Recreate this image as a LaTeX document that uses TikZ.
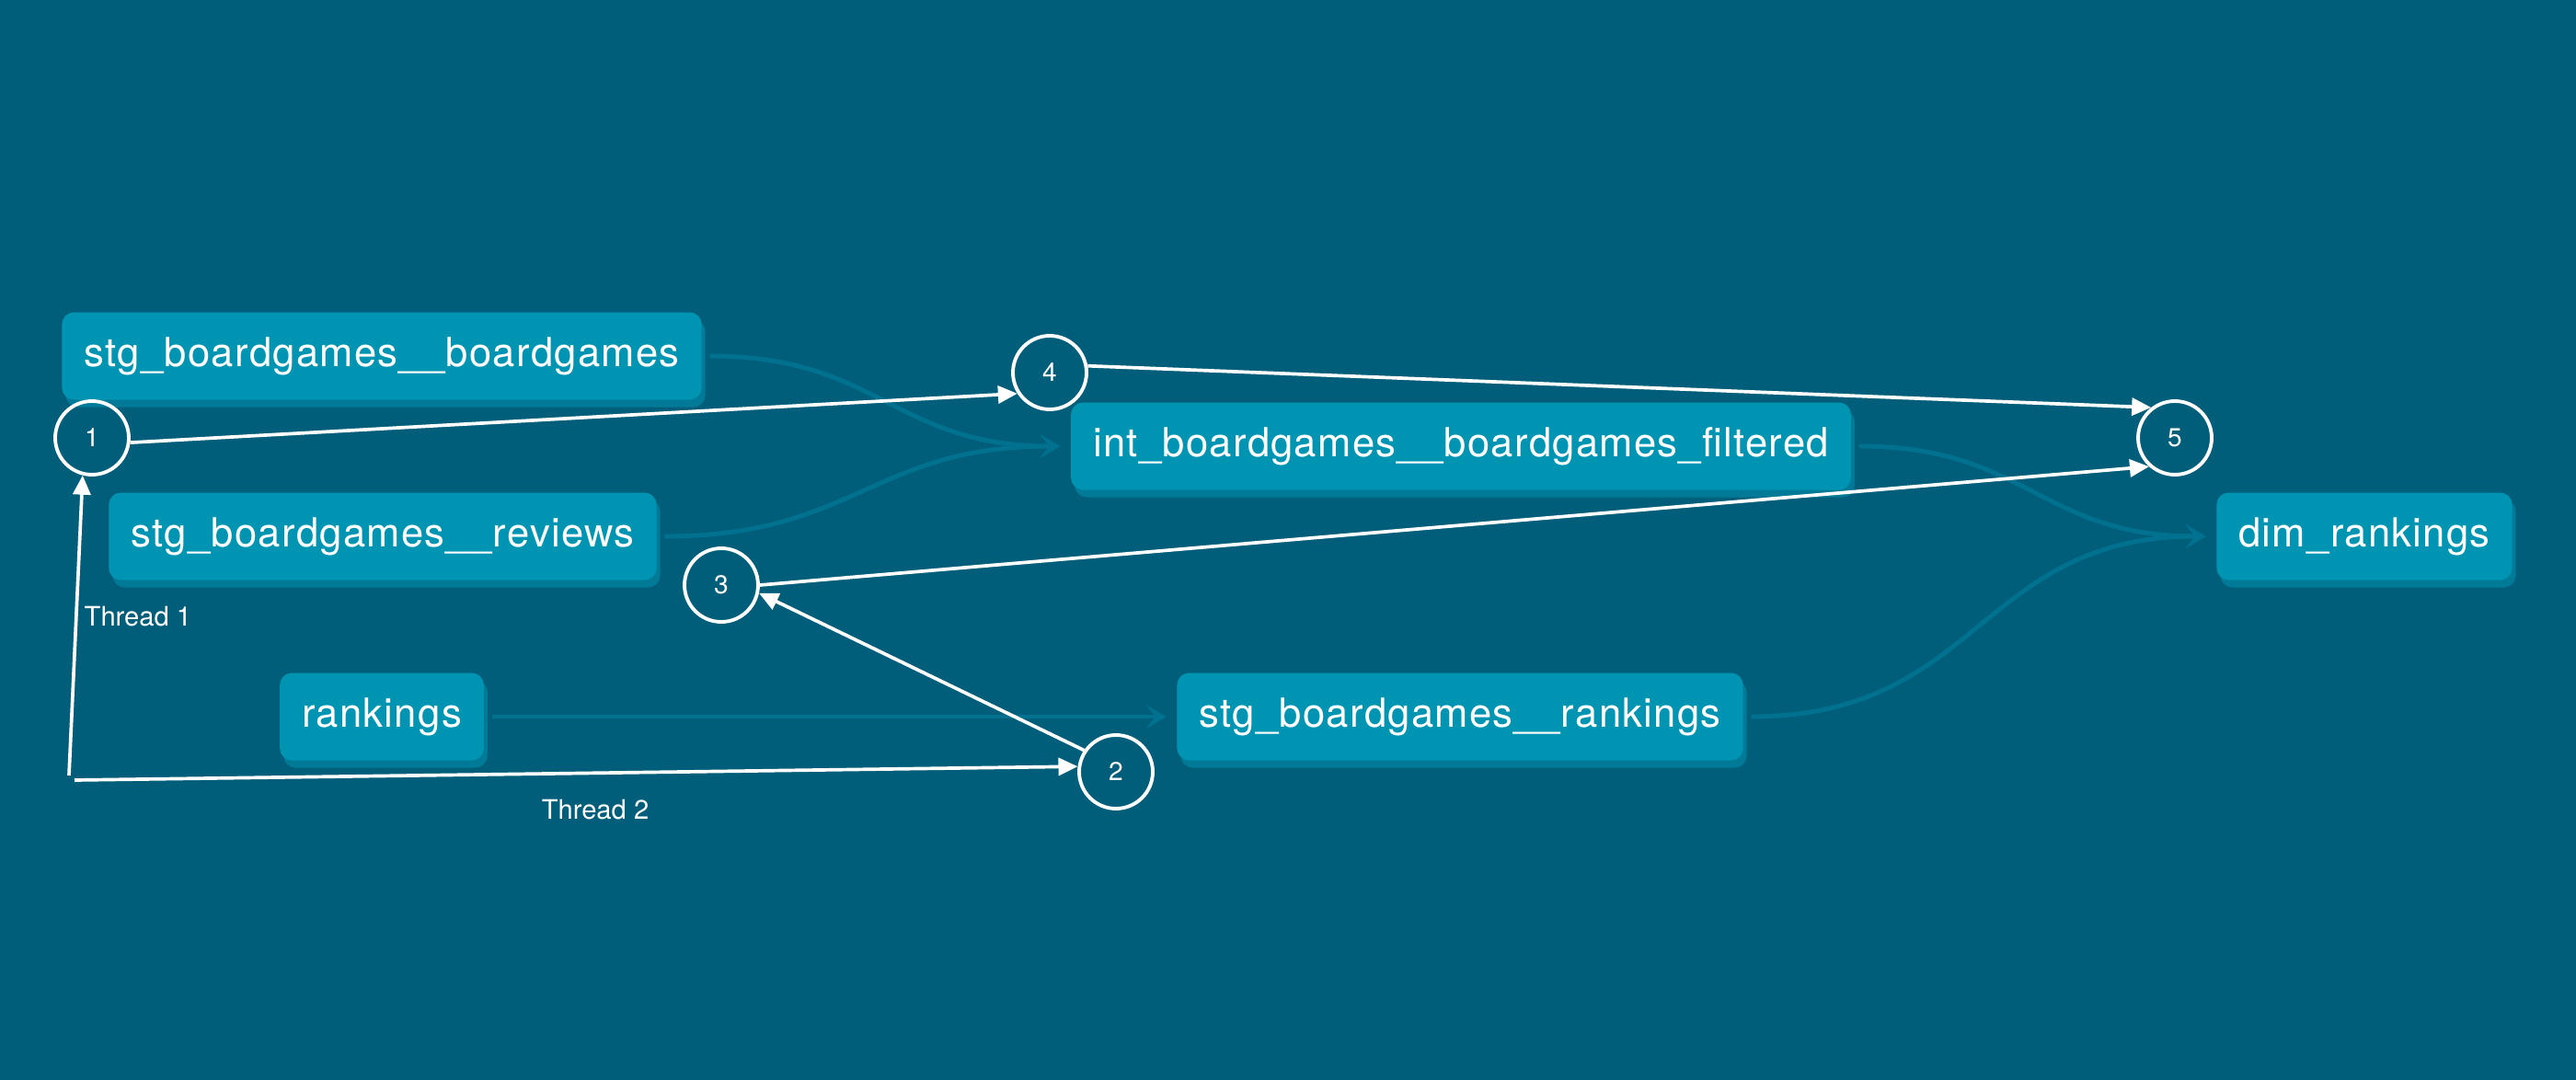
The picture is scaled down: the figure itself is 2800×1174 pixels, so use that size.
\documentclass[tikz,border=0pt]{standalone}
\usepackage{fontspec}
\setmainfont{TeX Gyre Heros}
\usetikzlibrary{arrows.meta}
\usetikzlibrary{shadows}
\definecolor{dag back}{HTML}{005E7A}
\definecolor{dag model}{HTML}{0094B3}
\definecolor{dag shade}{HTML}{007A96}
\definecolor{dag edge}{HTML}{00718E}

\begin{document}
\begin{tikzpicture}[x = 0.1mm, y = -0.1mm,
    model/.style = {fill = dag model, text = white, rounded corners = 1.3mm,
      minimum height = 9.5mm, inner xsep = 2.4mm, inner ysep = 0pt,
      font = \fontsize{12.4}{14}\selectfont\addfontfeature{LetterSpace=3},
      drop shadow = {shadow xshift = 0.4mm, shadow yshift = -0.8mm,
        fill = dag shade, opacity = 1}},
    job/.style = {circle, draw = white, line width = 1.1pt, minimum size = 8mm,
      inner sep = 0pt, text = white, font = \fontsize{8}{9}\selectfont},
    note/.style = {text = white, inner sep = 0pt, font = \fontsize{8.3}{10}\selectfont},
    flow/.style = {draw = dag edge, line width = 1.4pt, out = 0, in = 180,
      looseness = 1.2, shorten <= 0.8mm, shorten >= 1.1mm,
      -{Stealth[length = 2.2mm, width = 2.6mm, inset = 1mm]}},
    run/.style = {draw = white, line width = 1.05pt,
      -{Triangle[length = 2.1mm, width = 1.9mm]}}]

      \fill[dag back] (0, 0) rectangle (2800, 1174);

      % models
      \node[model] (bg) at (415, 387) {stg\_boardgames\_\_boardgames};
      \node[model] (rv) at (416, 583) {stg\_boardgames\_\_reviews};
      \node[model] (rk) at (415, 779) {rankings};
      \node[model] (flt) at (1588, 485) {int\_boardgames\_\_boardgames\_filtered};
      \node[model] (srk) at (1587, 779) {stg\_boardgames\_\_rankings};
      \node[model] (dim) at (2570, 583) {dim\_rankings};

      \draw[flow] (bg) to (flt);
      \draw[flow] (rv) to (flt);
      \draw[flow] (rk) -- (srk);
      \draw[flow] (flt) to (dim);
      \draw[flow] (srk) to (dim);

      % run order
      \foreach \n/\x/\y in {1/100/476, 2/1213/839, 3/784/636, 4/1141/405, 5/2364/476} {
        \node[job] (j\n) at (\x, \y) {\n};
      }

      \coordinate (t1) at (75, 843);
      \coordinate (t2) at (81, 848);
      \node[note, anchor = west] (th1) at (91, 670) {Thread 1};
      \node[note] (th2) at (647, 880) {Thread 2};

      \draw[run] (t1) -- (j1.-104);
      \draw[run] (t2) -- (j2.172);
      \draw[run] (j1.-7) -- (j4.213);
      \draw[run] (j2.146) -- (j3.-12);
      \draw[run] (j3.0) -- (j5.228);
      \draw[run] (j4.10) -- (j5.128);
    \end{tikzpicture}
\end{document}
